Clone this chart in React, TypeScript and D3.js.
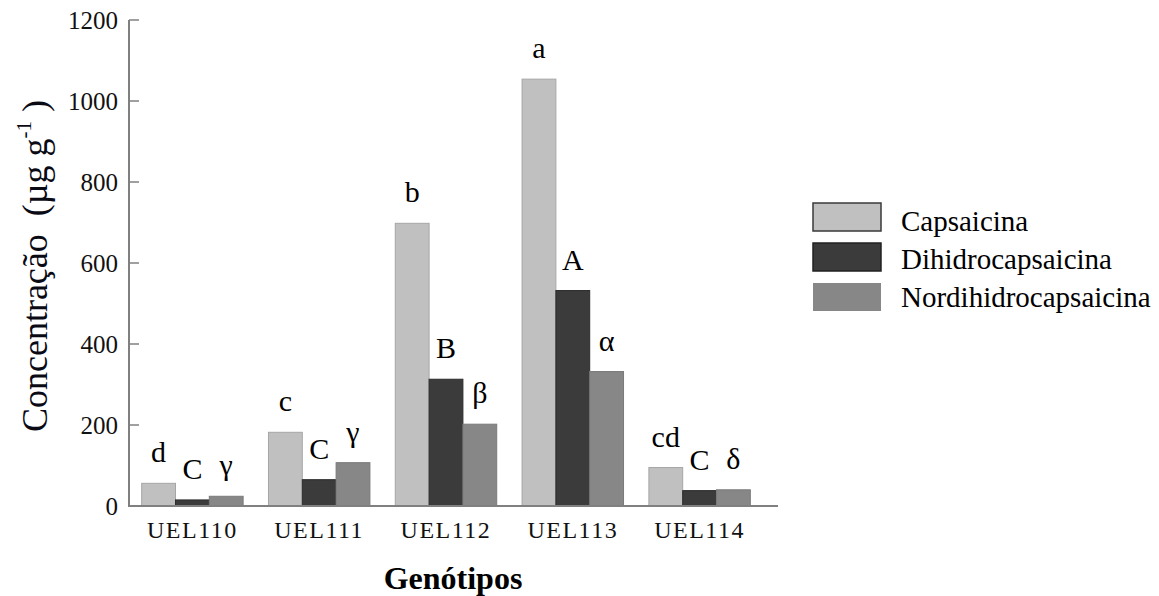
import React from "react";
import * as d3 from "d3";

const categories = ["UEL110", "UEL111", "UEL112", "UEL113", "UEL114"];
const seriesNames = ["Capsaicina", "Dihidrocapsaicina", "Nordihidrocapsaicina"];
const capsaicina = [56, 182, 698, 1054, 95];
const dihidrocapsaicina = [15, 65, 313, 532, 38];
const nordihidrocapsaicina = [24, 107, 202, 332, 40];
const capsLetters = ["d", "c", "b", "a", "cd"];
const dihLetters = ["C", "C", "B", "A", "C"];
const norLetters = ["γ", "γ", "β", "α", "δ"];
const yTicks = [0, 200, 400, 600, 800, 1000, 1200];

const seriesValues = [capsaicina, dihidrocapsaicina, nordihidrocapsaicina];
const seriesLetters = [capsLetters, dihLetters, norLetters];
const fills = ["#c0c0c0", "#3b3b3b", "#878787"];
const strokes = ["#a6a6a6", "#2c2c2c", "#7a7a7a"];
const legendStrokes = ["#3a3a3a", "#222222", "none"];

const FONT = "Liberation Serif, Tinos, Times New Roman, Times, DejaVu Serif, serif";

export default function App() {
  const W = 1159;
  const H = 596;
  const axisX = 129;
  const y = d3.scaleLinear().domain([0, 1200]).range([506, 20]);
  const x0 = d3
    .scaleBand<string>()
    .domain(categories)
    .range([129, 763])
    .paddingInner(0.2)
    .paddingOuter(0.1);
  const x1 = d3
    .scaleBand<number>()
    .domain([0, 1, 2])
    .range([0, x0.bandwidth()]);

  return (
    <div style={{ position: "absolute", left: 0, top: 0, fontFamily: FONT }}>
      <svg width={W} height={H} style={{ display: "block", background: "#fff", fontFamily: FONT }}>
        {/* bars */}
        {categories.map((c, i) => (
          <g key={c} transform={`translate(${x0(c)},0)`}>
            {seriesValues.map((vals, s) => (
              <rect
                key={s}
                x={x1(s)}
                y={y(vals[i])}
                width={x1.bandwidth()}
                height={y(0) - y(vals[i])}
                fill={fills[s]}
                stroke={strokes[s]}
                strokeWidth={1}
              />
            ))}
            {seriesValues.map((vals, s) => (
              <text
                key={"l" + s}
                x={(x1(s) as number) + x1.bandwidth() / 2}
                y={y(vals[i]) - 21}
                textAnchor="middle"
                fontSize={30}
                fill="#000"
              >
                {seriesLetters[s][i]}
              </text>
            ))}
          </g>
        ))}

        {/* axes */}
        <line x1={axisX} x2={axisX} y1={y(1200)} y2={y(0)} stroke="#808080" strokeWidth={2} />
        <line x1={axisX - 1} x2={778} y1={y(0)} y2={y(0)} stroke="#808080" strokeWidth={2} />
        {yTicks.map((t) => (
          <g key={t}>
            {t > 0 && (
              <line x1={axisX} x2={axisX + 10} y1={y(t)} y2={y(t)} stroke="#808080" strokeWidth={1.5} />
            )}
            <text x={118} y={y(t)} dy="0.35em" textAnchor="end" fontSize={25} fill="#111">
              {t}
            </text>
          </g>
        ))}
        {categories.map((c) => (
          <text
            key={c}
            x={(x0(c) as number) + x0.bandwidth() / 2}
            y={538}
            textAnchor="middle"
            fontSize={24}
            letterSpacing={1.5}
            fill="#111"
          >
            {c}
          </text>
        ))}

        {/* axis titles */}
        <text
          transform="translate(47,266) rotate(-90)"
          textAnchor="middle"
          fontSize={36}
          fill="#0a0a14"
        >
          Concentração{"\u00a0\u00a0"}(µg g
          <tspan fontSize={21} dy={-16}>-1</tspan>
          <tspan dy={16}>{"\u00a0"})</tspan>
        </text>
        <text x={453} y={589} textAnchor="middle" fontSize={32} fontWeight="bold" fill="#000">
          Genótipos
        </text>

        {/* legend */}
        {seriesNames.map((n, s) => (
          <g key={n} transform={`translate(813,${203 + s * 40})`}>
            <rect
              x={0}
              y={0}
              width={68}
              height={28}
              fill={fills[s]}
              stroke={legendStrokes[s]}
              strokeWidth={1.5}
            />
            <text x={88} y={28 - s * 2} fontSize={29} fill="#000">
              {n}
            </text>
          </g>
        ))}
      </svg>
    </div>
  );
}
